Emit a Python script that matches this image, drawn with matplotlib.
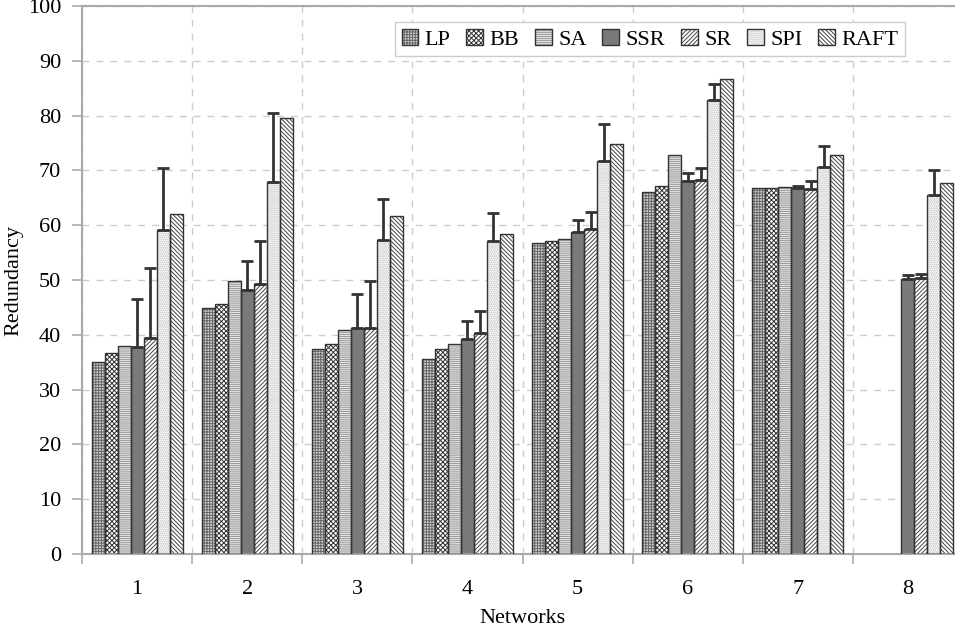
import numpy as np
import matplotlib
matplotlib.use('Agg')
import matplotlib.pyplot as plt

plt.rcParams['font.family'] = ['Liberation Serif', 'DejaVu Serif']
plt.rcParams['font.size'] = 16
plt.rcParams['hatch.linewidth'] = 0.7

nan = np.nan
networks = ['1', '2', '3', '4', '5', '6', '7', '8']
methods = ['LP', 'BB', 'SA', 'SSR', 'SR', 'SPI', 'RAFT']

lp = [35.0, 44.8, 37.5, 35.5, 56.8, 66.1, 66.7, nan]
bb = [36.6, 45.6, 38.3, 37.5, 57.1, 67.1, 66.7, nan]
sa = [38.0, 49.9, 40.8, 38.4, 57.4, 72.8, 67.0, nan]
ssr = [37.8, 48.2, 41.3, 39.3, 58.8, 68.1, 66.7, 50.1]
sr = [39.4, 49.2, 41.3, 40.4, 59.3, 68.3, 66.6, 50.4]
spi = [59.2, 67.8, 57.3, 57.2, 71.8, 82.9, 70.7, 65.6]
raft = [62.0, 79.5, 61.7, 58.4, 74.9, 86.6, 72.9, 67.7]

# upper error only (lower part hidden in the bar)
ssr_err = [8.7, 5.3, 6.2, 3.2, 2.2, 1.5, 0.4, 0.9]
sr_err = [12.7, 8.0, 8.6, 4.0, 3.2, 2.1, 1.5, 0.7]
spi_err = [11.2, 12.6, 7.4, 5.0, 6.6, 2.9, 3.7, 4.5]

values = [lp, bb, sa, ssr, sr, spi, raft]
errors = {3: ssr_err, 4: sr_err, 5: spi_err}

faces = ['#d0d0d0', 'white', '#e4e4e4', '#7a7a7a', 'white', '#f4f4f4', 'white']
hatches = ['++++++', 'xxxxxxx', '--------', None, '////////', '........', '\\\\\\\\\\\\\\\\']
hcolors = ['#666666', '#333333', '#999999', '#7a7a7a', '#444444', '#c4c4c4', '#444444']

fig = plt.figure(figsize=(9.55, 6.37), dpi=100)
ax = fig.add_axes([82/955, 83/637, 881/955, 548/637])

x = np.arange(1, len(networks) + 1)
w = 0.118
handles = []
for i, m in enumerate(methods):
    pos = x + (i - 3) * w
    h1 = ax.bar(pos, values[i], w, color=faces[i], hatch=hatches[i],
                edgecolor=hcolors[i], linewidth=0, zorder=2)
    h2 = ax.bar(pos, values[i], w, fill=False, edgecolor='#333333',
                linewidth=1.0, zorder=3)
    handles.append((h1[0], h2[0]))
    if i in errors:
        err = np.array(errors[i])
        ax.errorbar(pos, values[i], yerr=[np.zeros_like(err), err], fmt='none',
                    ecolor='#333333', elinewidth=2, capsize=4, capthick=2, zorder=4)

ax.set_xlim(0.5, 8.5)
ax.set_ylim(0, 100)
ax.set_yticks(np.arange(0, 101, 10))
ax.set_xticks(x)
ax.set_xticklabels(networks)
ax.set_xticks(np.arange(0.5, 9, 1), minor=True)
ax.tick_params(axis='x', which='major', length=0, pad=19)
ax.tick_params(axis='x', which='minor', length=7, color='#aaaaaa', width=1.2)
ax.tick_params(axis='y', length=7, color='#aaaaaa', width=1.2, pad=8)

ax.grid(axis='y', which='major', linestyle=(0, (5, 5)), color='#cccccc', linewidth=1, zorder=0)
ax.grid(axis='x', which='minor', linestyle=(0, (5, 5)), color='#cccccc', linewidth=1, zorder=0)
ax.set_axisbelow(True)
for s in ax.spines.values():
    s.set_color('#aaaaaa')
    s.set_linewidth(1.5)

ax.set_xlabel('Networks', labelpad=7)
ax.set_ylabel('Redundancy', labelpad=3)

ax.legend(handles, methods, ncol=7, loc='upper right',
          bbox_to_anchor=(905/955, 1 - 22/637), bbox_transform=fig.transFigure,
          borderaxespad=0, fancybox=False, edgecolor='#cccccc', framealpha=1,
          handlelength=0.75, handleheight=0.75, handletextpad=0.3,
          columnspacing=0.7, borderpad=0.3)

fig.savefig('out.png', dpi=100)
